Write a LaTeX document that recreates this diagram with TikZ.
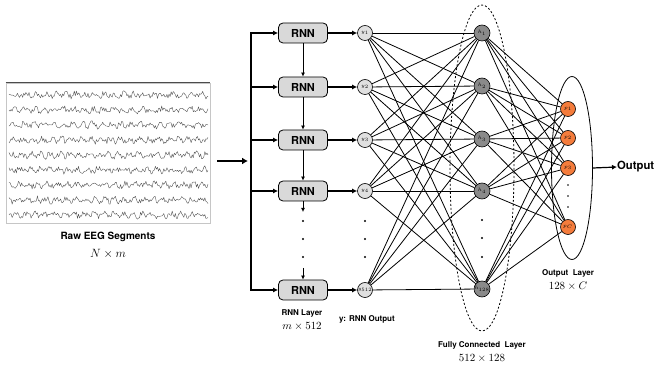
\documentclass[tikz,border=0pt]{standalone}
\usepackage{fontspec}
\setsansfont{TeX Gyre Heros}
\usetikzlibrary{arrows.meta,shapes.geometric}
\definecolor{boxgray}{HTML}{D9D9D9}
\definecolor{ygray}{HTML}{E0E0E0}
\definecolor{hgray}{HTML}{8A8A8A}
\definecolor{porange}{HTML}{F47C3C}
\definecolor{eegc}{HTML}{555555}
\begin{document}
\begin{tikzpicture}[x=1pt,y=-1pt,
  lbl/.style={font=\sffamily\bfseries\fontsize{8}{9}\selectfont, inner sep=0},
  mlbl/.style={font=\fontsize{10.5}{11}\selectfont, inner sep=0},
  rnnbox/.style={draw, line width=0.8pt, rounded corners=4.5pt, fill=boxgray, minimum width=49pt, minimum height=20pt, inner sep=0, font=\sffamily\bfseries\fontsize{11}{11}\selectfont},
  yc/.style={circle, draw, line width=0.6pt, fill=ygray, minimum size=15pt, inner sep=0, font=\fontsize{4.5}{4.5}\selectfont},
  hc/.style={circle, draw, line width=0.6pt, fill=hgray, minimum size=16pt, inner sep=0, font=\fontsize{4.5}{4.5}\selectfont},
  pc/.style={circle, draw, line width=0.6pt, fill=porange, minimum size=15pt, inner sep=0, font=\fontsize{4.5}{4.5}\selectfont},
  edge/.style={line width=0.8pt},
  thickarr/.style={line width=1.8pt, -{Latex[length=5pt,width=5pt]}},
  thinarr/.style={line width=0.8pt, -{Latex[length=4pt,width=4pt]}},
  dot/.style={circle, fill=black, inner sep=0, minimum size=2.2pt}
]
\useasboundingbox (0,0) rectangle (656,371);
\clip (0,0) rectangle (656,371);

% EEG box
\node[draw=gray!45, line width=0.6pt, minimum width=204pt, minimum height=140pt, inner sep=0] (eeg) at (108,153) {};
\draw[gray!60!black, line width=0.8pt] (eeg.north west) -- (eeg.north east);
\pgfmathsetseed{11}
\foreach \k in {0,...,8} {
  \draw[eegc, line width=0.4pt, line join=round] plot[domain=9:208, samples=190] (\x, {95+15*\k + 2.8*rand + 1.6*sin(\x*37+\k*50)});
}
\node[lbl, font=\sffamily\bfseries\fontsize{10}{11}\selectfont] (eeglbl) at (108,237) {Raw EEG Segments};
\node[mlbl, font=\fontsize{11.5}{12}\selectfont] (eegdim) at (108,254) {$N\times m$};

% bus
\coordinate (b1) at (251,33);
\coordinate (b2) at (251,87);
\coordinate (b3) at (251,140);
\coordinate (b4) at (251,191);
\coordinate (b5) at (251,290);
\coordinate (bm) at (251,161);
\draw[line width=2.2pt, line cap=rect] (b1) -- (b5);
\draw[line width=2.8pt, -{Latex[length=6pt,width=7pt]}, shorten <=7pt, shorten >=3pt] (eeg.east |- bm) -- (bm);

% RNN boxes
\node[rnnbox] (r1) at (303,33) {RNN};
\node[rnnbox] (r2) at (303,87) {RNN};
\node[rnnbox] (r3) at (303,140) {RNN};
\node[rnnbox] (r4) at (303,191) {RNN};
\node[rnnbox] (r5) at (303,290) {RNN};
\foreach \i in {1,...,5} \draw[thickarr] (b\i) -- (r\i);
\draw[thinarr] (r1) -- (r2);
\draw[thinarr] (r2) -- (r3);
\draw[thinarr] (r3) -- (r4);
\coordinate (ra) at (303,212);
\coordinate (rb) at (303,268);
\draw[thinarr] (r4) -- (ra);
\draw[thinarr] (rb) -- (r5);
\node[dot] (rd1) at (303,221) {};
\node[dot] (rd2) at (303,239) {};
\node[dot] (rd3) at (303,257) {};

% y nodes
\node[yc] (y1) at (365,33) {$y_1$};
\node[yc] (y2) at (365,87) {$y_2$};
\node[yc] (y3) at (365,140) {$y_3$};
\node[yc] (y4) at (365,191) {$y_4$};
\node[yc] (y5) at (365,290) {$y_{512}$};
\foreach \i in {1,...,5} \draw[thickarr] (r\i) -- (y\i);
\node[dot] (yd1) at (365,221) {};
\node[dot] (yd2) at (365,239) {};
\node[dot] (yd3) at (365,257) {};

% h nodes
\node[hc] (h1) at (482,33) {$h_1$};
\node[hc] (h2) at (482,86) {$h_2$};
\node[hc] (h3) at (482,139) {$h_3$};
\node[hc] (h4) at (482,191) {$h_4$};
\node[hc] (h5) at (482,289) {$h_{128}$};
\node[dot] (hd1) at (482,220) {};
\node[dot] (hd2) at (482,238) {};
\node[dot] (hd3) at (482,257) {};

% p nodes
\node[pc] (p1) at (568,109) {$p_1$};
\node[pc] (p2) at (568,138) {$p_2$};
\node[pc] (p3) at (568,168) {$p_3$};
\node[pc] (p4) at (568,227) {$p_C$};
\node[dot, minimum size=1.8pt] (pd1) at (568,185) {};
\node[dot, minimum size=1.8pt] (pd2) at (568,196) {};
\node[dot, minimum size=1.8pt] (pd3) at (568,207) {};

% full connections
\foreach \i in {1,...,5} \foreach \j in {1,...,5} \draw[edge] (y\i) -- (h\j);
\foreach \i in {1,...,5} \foreach \j in {1,...,4} \draw[edge] (h\i) -- (p\j);

% ellipses
\draw[dashed, line width=0.8pt, dash pattern=on 2pt off 2pt] (482,168) ellipse [x radius=32, y radius=163];
\node[ellipse, draw, line width=0.8pt, minimum width=41pt, minimum height=183pt, inner sep=0] (oell) at (572,168) {};

% output
\node[font=\sffamily\bfseries\fontsize{11.3}{12}\selectfont, anchor=west, inner sep=0] (out) at (617,167) {Output};
\draw[line width=1.2pt, -{Latex[length=5pt,width=5pt]}] (oell.east) -- (out.west);

% labels
\node[lbl] (rl) at (302,313) {RNN Layer};
\node[mlbl] (rdim) at (302,326) {$m\times 512$};
\node[lbl] (yl) at (367,319) {y: RNN Output};
\node[lbl] (fl) at (482,345) {Fully Connected\ \ Layer};
\node[mlbl] (fdim) at (482,358) {$512\times 128$};
\node[lbl] (ol) at (568,273) {Output\ \ Layer};
\node[mlbl] (odim) at (568,286) {$128\times C$};
\end{tikzpicture}
\end{document}
